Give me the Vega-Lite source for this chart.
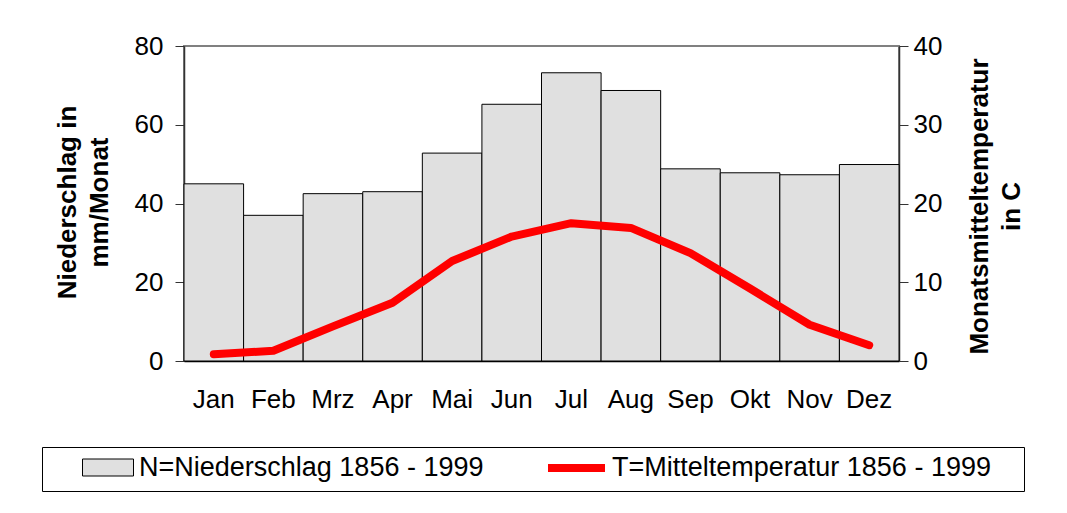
{
  "$schema": "https://vega.github.io/schema/vega-lite/v6.json",
  "width": 715,
  "height": 315,
  "autosize": {"type": "none"},
  "padding": {"left": 184, "top": 46, "right": 168, "bottom": 152},
  "background": "white",
  "config": {
    "font": "Liberation Sans",
    "view": {"stroke": "#808080", "strokeWidth": 2},
    "axis": {"labelFont": "Liberation Sans", "titleFont": "Liberation Sans", "labelColor": "black", "titleColor": "black"}
  },
  "data": {
    "values": [
      {"month": "Jan", "N": 45.0, "T": 0.85},
      {"month": "Feb", "N": 37.0, "T": 1.3},
      {"month": "Mrz", "N": 42.5, "T": 4.4},
      {"month": "Apr", "N": 43.0, "T": 7.4},
      {"month": "Mai", "N": 52.8, "T": 12.7},
      {"month": "Jun", "N": 65.2, "T": 15.8},
      {"month": "Jul", "N": 73.2, "T": 17.5},
      {"month": "Aug", "N": 68.7, "T": 16.9},
      {"month": "Sep", "N": 48.8, "T": 13.7},
      {"month": "Okt", "N": 47.8, "T": 9.2},
      {"month": "Nov", "N": 47.3, "T": 4.6},
      {"month": "Dez", "N": 49.9, "T": 2.0}
    ]
  },
  "encoding": {
    "x": {
      "field": "month", "type": "nominal", "sort": null,
      "scale": {"paddingInner": 0, "paddingOuter": 0},
      "axis": {"title": null, "labelAngle": 0, "ticks": false, "labelPadding": 25, "labelFontSize": 26, "domainColor": "black", "domainWidth": 1.5}
    }
  },
  "layer": [
    {
      "mark": {"type": "bar", "stroke": "black", "strokeWidth": 1},
      "encoding": {
        "y": {
          "field": "N", "type": "quantitative",
          "scale": {"domain": [0, 80]},
          "axis": {
            "orient": "left", "values": [0, 20, 40, 60, 80], "grid": false,
            "title": ["Niederschlag in", "mm/Monat"],
            "titleFontSize": 26, "titleFontWeight": "bold", "titleAngle": -90,
            "titleX": -117, "titleY": 156, "titleAlign": "center", "titleBaseline": "middle", "titleLineHeight": 32,
            "labelFontSize": 26, "labelPadding": 12, "tickSize": 9,
            "domainColor": "#333", "tickColor": "#333", "domainWidth": 1.5
          }
        },
        "fill": {
          "datum": "N=Niederschlag 1856 - 1999",
          "scale": {"domain": ["N=Niederschlag 1856 - 1999"], "range": ["#e0e0e0"]},
          "legend": {
            "orient": "none", "legendX": -107, "legendY": 408,
            "padding": 0, "title": null,
            "labelFontSize": 27, "labelFont": "Liberation Sans", "labelLimit": 600, "labelColor": "black",
            "labelOffset": 35, "symbolSize": 400,
            "symbolType": "M-0.8,-0.85H4.3V0.85H-0.8Z",
            "symbolStrokeColor": "black", "symbolStrokeWidth": 1, "symbolOpacity": 1
          }
        }
      }
    },
    {
      "mark": {"type": "line", "strokeWidth": 8, "strokeCap": "round", "strokeJoin": "round"},
      "encoding": {
        "y": {
          "field": "T", "type": "quantitative",
          "scale": {"domain": [0, 40]},
          "axis": {
            "orient": "right", "values": [0, 10, 20, 30, 40], "grid": false,
            "title": ["Monatsmitteltemperatur", "in C"],
            "titleFontSize": 26, "titleFontWeight": "bold", "titleAngle": -90,
            "titleX": 80, "titleY": 160, "titleAlign": "center", "titleBaseline": "middle", "titleLineHeight": 32,
            "labelFontSize": 26, "labelPadding": 5, "tickSize": 9,
            "domainColor": "#333", "tickColor": "#333", "domainWidth": 1.5
          }
        },
        "stroke": {
          "datum": "T=Mitteltemperatur 1856 - 1999",
          "scale": {"domain": ["T=Mitteltemperatur 1856 - 1999"], "range": ["#ff0000"]},
          "legend": {
            "orient": "none", "legendX": -142, "legendY": 401,
            "padding": 7, "strokeColor": "black",
            "title": " ", "titleOrient": "left", "titlePadding": 500, "titleFontSize": 27,
            "labelFontSize": 27, "labelFont": "Liberation Sans", "labelLimit": 600, "labelColor": "black",
            "labelOffset": 35, "symbolSize": 400,
            "symbolType": "M-1.5,0H4.2M43.8,0",
            "symbolStrokeWidth": 8, "symbolOpacity": 1
          }
        }
      }
    }
  ],
  "resolve": {"scale": {"y": "independent"}}
}
